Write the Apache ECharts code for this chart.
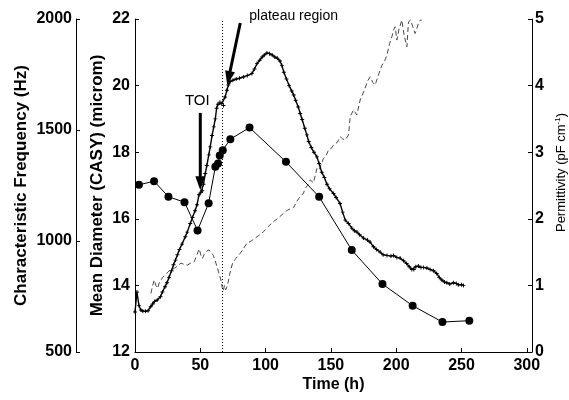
<!DOCTYPE html>
<html>
<head>
<meta charset="utf-8">
<script src="https://cdn.jsdelivr.net/npm/echarts@6/dist/echarts.min.js"></script>
<style>html,body{margin:0;padding:0;background:#fff;}#c{width:569px;height:400px;}</style>
</head>
<body>
<div id="c"></div>
<script>
// ---- Data ----
const xTicks = [0, 50, 100, 150, 200, 250, 300];

// Mean diameter (CASY), microm
const diamTime = [3, 14.6, 25.6, 37.9, 47.9, 56.4, 61.5, 63.6, 64.9, 67.2, 73, 87.7, 115.6, 141, 166, 189.5, 212.6, 235.4, 256];
const diamVals = [17.02, 17.13, 16.66, 16.5, 15.65, 16.47, 17.56, 17.66, 17.9, 18.06, 18.39, 18.74, 17.71, 16.66, 15.06, 14.04, 13.39, 12.9, 12.94];

// Permittivity, pF/cm
const permTime = [0,1.5,3,4.5,6,8,10,12,13.5,15,17,19.5,21,23,24.5,26,28,29.5,31,32.5,34,36,38.5,40,42.3,44,46,47.5,49,50.5,51.5,52.5,53.8,55,56.5,57.6,59,60.3,61.5,62.5,63.5,65,66.5,67.8,69,70.4,71.5,72.9,75,77.5,80,83,86,89.5,91.5,93.4,95.5,97.4,99,101,103,105,107,109,111,112.5,114,116,118,120,121.5,123,125,126.5,128,130,131.6,133,135,137,139.3,141,143,145,147,149,152,154,157,159,161,163.5,166,168,170,172,175,178,180,182.6,185,187.7,190,193,196,198,200.5,203,205.6,208,210,212,213.5,215,217,219,221,223.5,226,228.5,231,233,235,237,238.8,241,243.8,246,247.6,250,251.5];
const permVals = [0.60,0.90,0.70,0.63,0.61,0.61,0.62,0.68,0.72,0.76,0.78,0.83,0.90,0.98,1.04,1.12,1.22,1.31,1.38,1.46,1.54,1.62,1.73,1.80,1.93,2.02,2.12,2.21,2.36,2.40,2.42,2.52,2.68,2.80,2.96,3.08,3.25,3.38,3.50,3.66,3.72,3.75,3.73,3.70,3.83,3.93,4.01,4.06,4.08,4.10,4.11,4.13,4.15,4.18,4.25,4.33,4.38,4.43,4.46,4.49,4.48,4.46,4.43,4.41,4.37,4.30,4.20,4.10,4.00,3.92,3.86,3.78,3.68,3.58,3.49,3.36,3.26,3.16,3.07,3.00,2.93,2.83,2.70,2.62,2.52,2.45,2.38,2.32,2.23,2.10,1.98,1.93,1.86,1.82,1.80,1.76,1.71,1.68,1.65,1.58,1.54,1.50,1.46,1.45,1.44,1.45,1.42,1.41,1.37,1.33,1.28,1.24,1.24,1.28,1.29,1.27,1.27,1.26,1.24,1.22,1.18,1.12,1.08,1.05,1.04,1.02,1.04,1.03,1.01,1.01,1.00];

// Characteristic frequency, Hz
const freqTime = [12.2,13.5,14.8,16,17.3,18.5,19.9,21,22,23.5,24.9,27,30.1,32,35.2,37.5,40.3,42.5,45.4,47.5,49.2,50.5,51.7,53,54.3,56,58.2,60,62,64,65.8,66.8,67.6,68.5,69.5,70.9,72.5,74.7,77,80.6,83,85.7,89,93.4,96,98.4,102,106,110,113.7,117,121.4,124,126.5,129,130.3,132,134.2,136.7,139.3,141,144.3,146,148.2,150,152,155,157.1,159,160.9,163.5,164.8,166,167.3,169.9,172.4,176.2,178,180.1,182,183.9,187.7,189,191.5,193,195,196.7,198,199.2,200.5,202,204.3,206,208.2,209.4,211,212,214.5,216,217,218.5,219.6];
const freqVals = [764,800,824,800,787,810,806,835,833,850,855,870,877,885,900,895,892,900,907,940,964,935,922,940,945,960,952,935,900,860,824,790,775,800,780,802,850,900,920,945,965,990,1000,1019,1030,1042,1065,1087,1105,1125,1140,1150,1180,1200,1215,1237,1250,1275,1262,1327,1320,1372,1380,1410,1415,1432,1445,1470,1460,1455,1477,1560,1575,1590,1568,1635,1688,1720,1740,1715,1703,1770,1790,1815,1840,1890,1920,1950,1965,1905,1950,1995,1930,1875,1987,1995,1995,1935,1960,1980,1995,1995];

const markerTime = 66.8; // dotted vertical line

// Annotations (data coords on time / diameter axes)
const arrowTOI = [[50, 19.18], [50, 16.86]];
const arrowPlateau = [[80.6, 21.88], [70.6, 20.02]];
const textTOI = ['TOI', 47.7, 19.54];
const textPlateau = ['plateau region', 121.5, 22.09];

// ---- Chart ----
const zip = (a, b) => a.map((v, i) => [v, b[i]]);
const FONT = '"Liberation Sans", Arial, Helvetica, sans-serif';
const chart = echarts.init(document.getElementById('c'), null, {renderer: 'canvas'});
const axLine = {show: true, lineStyle: {color: '#000', width: 1}};
const tick = {show: true, inside: true, length: 4, lineStyle: {color: '#000'}};
const lbl = {color: '#000', fontWeight: 'bold', fontSize: 16, fontFamily: FONT, formatter: v => String(v)};

chart.setOption({
  animation: false,
  backgroundColor: '#fff',
  grid: {left: 135, right: 37, top: 19, bottom: 48, containLabel: false, outerBoundsMode: 'none'},
  xAxis: {
    type: 'value', min: 0, max: 304, interval: 50,
    axisLine: axLine, axisTick: tick, splitLine: {show: false},
    axisLabel: Object.assign({}, lbl, {margin: 6, formatter: v => (xTicks.indexOf(v) >= 0 ? String(v) : '')}),
    name: 'Time (h)', nameLocation: 'middle', nameGap: 25, nameMoveOverlap: false,
    nameTextStyle: {color: '#000', fontWeight: 'bold', fontSize: 16, fontFamily: FONT}
  },
  yAxis: [
    {
      type: 'value', position: 'left', offset: 0, min: 12, max: 22, interval: 2,
      axisLine: axLine, axisTick: tick, splitLine: {show: false},
      axisLabel: Object.assign({}, lbl, {margin: 5}),
      name: 'Mean Diameter (CASY) (microm)', nameLocation: 'middle', nameGap: 29, nameMoveOverlap: false,
      nameTextStyle: {color: '#000', fontWeight: 'bold', fontSize: 17, fontFamily: FONT}
    },
    {
      type: 'value', position: 'left', offset: 59, min: 500, max: 2000, interval: 500,
      axisLine: axLine, axisTick: tick, splitLine: {show: false},
      axisLabel: Object.assign({}, lbl, {margin: 4}),
      name: 'Characteristic Frequency (Hz)', nameLocation: 'middle', nameGap: 46, nameMoveOverlap: false,
      nameTextStyle: {color: '#000', fontWeight: 'bold', fontSize: 17, fontFamily: FONT}
    },
    {
      type: 'value', position: 'right', offset: 0, min: 0, max: 5, interval: 1,
      axisLine: axLine, axisTick: tick, splitLine: {show: false},
      axisLabel: Object.assign({}, lbl, {margin: 3}),
      name: '{a|Permittivity (pF cm}{s|-1}{a|)}', nameLocation: 'middle', nameGap: 22, nameRotate: 90, nameMoveOverlap: false,
      nameTextStyle: {
        color: '#000', fontSize: 13, fontFamily: FONT, padding: [0, 0, 0, 26],
        rich: {a: {fontSize: 13, fontFamily: FONT, color: '#000'},
               s: {fontSize: 8, fontFamily: FONT, color: '#000', verticalAlign: 'top', padding: [0, 0, 6, 0]}}
      }
    }
  ],
  series: [
    {
      name: 'freq', type: 'line', xAxisIndex: 0, yAxisIndex: 1,
      data: zip(freqTime, freqVals), showSymbol: false, symbol: 'none',
      lineStyle: {color: '#333', width: 0.9, type: [5, 3]}, z: 2
    },
    {
      name: 'perm', type: 'line', xAxisIndex: 0, yAxisIndex: 2,
      data: zip(permTime, permVals), showAllSymbol: true,
      symbol: 'path://M-0.7,-3L0.7,-3L0.7,-0.7L3,-0.7L3,0.7L0.7,0.7L0.7,3L-0.7,3L-0.7,0.7L-3,0.7L-3,-0.7L-0.7,-0.7Z', symbolSize: 4,
      itemStyle: {color: '#000'}, lineStyle: {color: '#000', width: 1.4}, z: 3
    },
    {
      name: 'diam', type: 'line', xAxisIndex: 0, yAxisIndex: 0,
      data: zip(diamTime, diamVals), symbol: 'circle', symbolSize: 8, showAllSymbol: true,
      itemStyle: {color: '#000'}, lineStyle: {color: '#000', width: 1}, z: 4,
      markLine: {
        silent: true, symbol: ['none', 'none'], label: {show: false},
        lineStyle: {color: '#000', width: 1, type: [1, 2]},
        data: [{xAxis: markerTime}]
      }
    }
  ]
});

function annotate() {
  const px = c => chart.convertToPixel({xAxisIndex: 0, yAxisIndex: 0}, c);
  const els = [];
  function arrow(a, headL, headW, shaftW) {
    const s = px(a[0]), t = px(a[1]);
    const dx = t[0] - s[0], dy = t[1] - s[1];
    const len = Math.hypot(dx, dy);
    const ux = dx / len, uy = dy / len, nx = -uy, ny = ux;
    const bx = t[0] - ux * headL, by = t[1] - uy * headL;
    els.push({type: 'line', shape: {x1: s[0], y1: s[1], x2: bx + ux * 2, y2: by + uy * 2},
      style: {stroke: '#000', lineWidth: shaftW}, z: 10});
    els.push({type: 'polygon', shape: {points: [[t[0], t[1]], [bx + nx * headW, by + ny * headW], [bx - nx * headW, by - ny * headW]]},
      style: {fill: '#000'}, z: 10});
  }
  arrow(arrowTOI, 14, 5, 3);
  arrow(arrowPlateau, 14, 5, 3);
  [[textTOI, 15], [textPlateau, 14]].forEach(([t, fs]) => {
    const p = px([t[1], t[2]]);
    els.push({type: 'text', x: p[0], y: p[1], z: 10,
      style: {text: t[0], fill: '#000', font: fs + 'px ' + FONT, textAlign: 'center', textVerticalAlign: 'middle'}});
  });
  chart.setOption({graphic: els});
}
annotate();
</script>
</body>
</html>
